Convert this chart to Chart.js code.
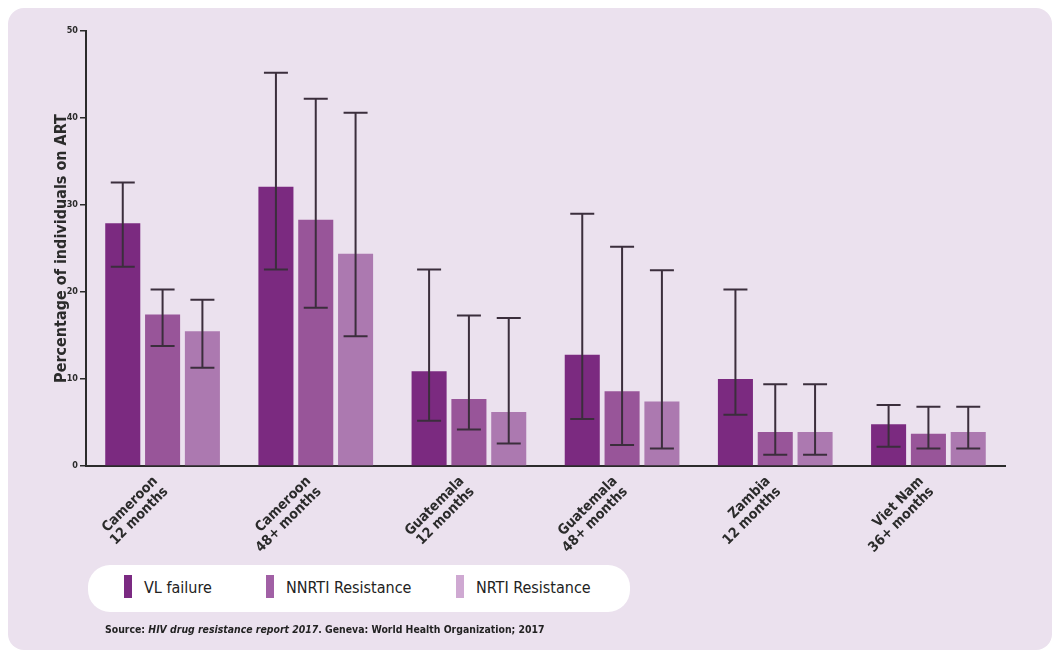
<!DOCTYPE html>
<html>
<head>
<meta charset="utf-8">
<script src="https://cdn.jsdelivr.net/npm/chart.js@4.4.1/dist/chart.umd.min.js"></script>
<style>
  html, body { margin: 0; padding: 0; background: #fff; }
  body { width: 1062px; height: 655px; position: relative; overflow: hidden;
         font-family: "Liberation Sans Narrow", "DejaVu Sans Condensed", sans-serif; }
  #panel { position: absolute; left: 8px; top: 8px; width: 1044px; height: 642px;
           background: #ebe1ee; border-radius: 16px; }
  #wrap { position: absolute; left: 0; top: 0; width: 1062px; height: 655px; }
  #legend { position: absolute; left: 88px; top: 565px; width: 542px; height: 47px;
            background: #fff; border-radius: 22px; }
  .item { position: absolute; top: 10px; height: 24px; line-height: 26px;
          font-size: 16px; color: #222; }
  .item i { position: absolute; left: 0; top: 0; width: 8px; height: 23px; }
  .item span { position: absolute; left: 20px; white-space: nowrap; }
  #source { position: absolute; left: 105px; top: 623px; font-size: 10.4px; color: #222;
            font-weight: bold; white-space: nowrap; }
</style>
</head>
<body>
<div id="panel"></div>
<div id="wrap"><canvas id="chart" width="1062" height="655"></canvas></div>
<div id="legend">
  <div class="item" style="left:36px"><i style="background:#7b2a82"></i><span>VL failure</span></div>
  <div class="item" style="left:178px"><i style="background:#a160a5"></i><span>NNRTI Resistance</span></div>
  <div class="item" style="left:368px"><i style="background:#cfa9d2"></i><span>NRTI Resistance</span></div>
</div>
<div id="source">Source: <i>HIV drug resistance report 2017</i>. Geneva: World Health Organization; 2017</div>
<script>
const categories = [
  ['Cameroon', '12 months'],
  ['Cameroon', '48+ months'],
  ['Guatemala', '12 months'],
  ['Guatemala', '48+ months'],
  ['Zambia', '12 months'],
  ['Viet Nam', '36+ months']
];

const vlFailure = [27.9, 32.1, 10.9, 12.8, 10.0, 4.8];
const vlLow     = [22.9, 22.6, 5.2, 5.4, 5.9, 2.2];
const vlHigh    = [32.6, 45.2, 22.6, 29.0, 20.3, 7.0];

const nnrti     = [17.4, 28.3, 7.7, 8.6, 3.9, 3.7];
const nnrtiLow  = [13.8, 18.2, 4.2, 2.4, 1.3, 2.0];
const nnrtiHigh = [20.3, 42.2, 17.3, 25.2, 9.4, 6.8];

const nrti      = [15.5, 24.4, 6.2, 7.4, 3.9, 3.9];
const nrtiLow   = [11.3, 14.9, 2.6, 2.0, 1.3, 2.0];
const nrtiHigh  = [19.1, 40.6, 17.0, 22.5, 9.4, 6.8];

const yTicks = [0, 10, 20, 30, 40, 50];

// whiskers drawn from the low/high arrays through the y scale
const errorBars = {
  id: 'errorBars',
  afterDatasetsDraw(chart) {
    const ctx = chart.ctx;
    const y = chart.scales.y;
    ctx.save();
    ctx.strokeStyle = '#3b2e3c';
    ctx.lineWidth = 2;
    chart.data.datasets.forEach((ds, i) => {
      const meta = chart.getDatasetMeta(i);
      meta.data.forEach((bar, j) => {
        const top = y.getPixelForValue(ds.high[j]);
        const bot = y.getPixelForValue(ds.low[j]);
        const x = bar.x;
        ctx.beginPath();
        ctx.moveTo(x, top); ctx.lineTo(x, bot);
        ctx.moveTo(x - 12, top); ctx.lineTo(x + 12, top);
        ctx.moveTo(x - 12, bot); ctx.lineTo(x + 12, bot);
        ctx.stroke();
      });
    });
    ctx.restore();
  }
};

const fontFam = '"Liberation Sans Narrow", "DejaVu Sans Condensed", sans-serif';

new Chart(document.getElementById('chart'), {
  type: 'bar',
  data: {
    labels: categories,
    datasets: [
      { label: 'VL failure', data: vlFailure, low: vlLow, high: vlHigh, backgroundColor: '#7b2a80' },
      { label: 'NNRTI Resistance', data: nnrti, low: nnrtiLow, high: nnrtiHigh, backgroundColor: '#985599' },
      { label: 'NRTI Resistance', data: nrti, low: nrtiLow, high: nrtiHigh, backgroundColor: '#ac79b0' }
    ]
  },
  options: {
    responsive: false,
    animation: false,
    layout: { padding: { left: 0, top: 31, right: 57, bottom: 0 } },
    categoryPercentage: 0.78,
    barPercentage: 0.88,
    plugins: { legend: { display: false }, tooltip: { enabled: false } },
    scales: {
      x: {
        afterFit(s) { s.height = 189; },
        grid: { display: false, drawTicks: false },
        border: { color: '#2b2b2b', width: 2 },
        ticks: {
          minRotation: 45, maxRotation: 45, padding: 8, labelOffset: -7,
          color: '#2b2b2b',
          font: { family: fontFam, size: 14, weight: 'bold', lineHeight: 1.05 }
        }
      },
      y: {
        min: 0, max: 50,
        afterFit(s) { s.width = 86; },
        afterBuildTicks(s) { s.ticks = yTicks.map(v => ({ value: v })); },
        grid: { drawOnChartArea: false, drawTicks: true, tickLength: 6, color: '#2b2b2b', lineWidth: 1.5 },
        border: { color: '#2b2b2b', width: 2 },
        ticks: {
          padding: 2, color: '#2b2b2b',
          font: { family: fontFam, size: 9, weight: 'bold' }
        },
        title: {
          display: true, text: 'Percentage of individuals on ART',
          color: '#2b2b2b', padding: { top: 52, bottom: 0 },
          font: { family: fontFam, size: 16, weight: 'bold' }
        }
      }
    }
  },
  plugins: [errorBars]
});
</script>
</body>
</html>
